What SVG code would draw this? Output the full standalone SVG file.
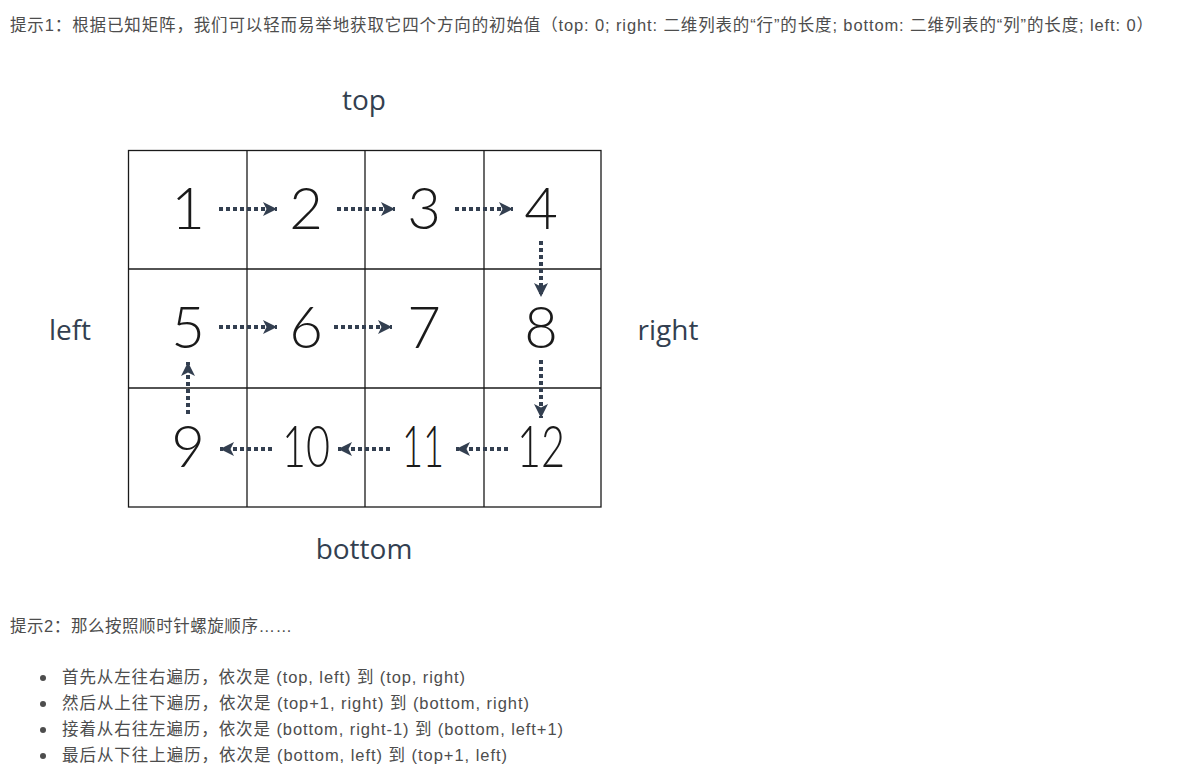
<svg xmlns="http://www.w3.org/2000/svg" width="1184" height="784" viewBox="0 0 1184 784">
<style>
.t{font-family:"Liberation Sans","Noto Sans CJK SC",sans-serif;font-size:16.5px;fill:#4d4d4d}
.lab{font-family:"Open Sans","Noto Sans",sans-serif;font-size:28px;fill:#333f50;text-anchor:middle}
.num{font-family:"Lato","Open Sans",sans-serif;font-weight:300;font-size:58px;fill:#1a1a1a;text-anchor:middle}
.cell{fill:#fff;stroke:#1a1a1a;stroke-width:1.3}
.ar{stroke:#333f50;stroke-width:4;stroke-dasharray:4 3;fill:none;marker-end:url(#ah)}
</style>
<defs>
<marker id="ah" viewBox="0 0 12 12" refX="12" refY="6" markerWidth="14" markerHeight="14" markerUnits="userSpaceOnUse" orient="auto">
<path d="M0,0 L12,6 L0,12 L3,6 Z" fill="#333f50"/>
</marker>
</defs>
<rect width="1184" height="784" fill="#fff"/>
<text class="t" x="10" y="31" textLength="1143" lengthAdjust="spacing">提示1：根据已知矩阵，我们可以轻而易举地获取它四个方向的初始值（top: 0; right: 二维列表的“行”的长度; bottom: 二维列表的“列”的长度; left: 0）</text>
<text class="lab" x="364" y="110">top</text>
<text class="lab" x="70" y="340">left</text>
<text class="lab" x="668" y="340">right</text>
<text class="lab" x="364" y="559">bottom</text>
<g id="grid">
<rect class="cell" x="128.5" y="150.5" width="472.5" height="356.5"/>
<line x1="247" y1="150" x2="247" y2="507" stroke="#1a1a1a" stroke-width="1.3"/>
<line x1="365" y1="150" x2="365" y2="507" stroke="#1a1a1a" stroke-width="1.3"/>
<line x1="484" y1="150" x2="484" y2="507" stroke="#1a1a1a" stroke-width="1.3"/>
<line x1="128" y1="269" x2="601" y2="269" stroke="#1a1a1a" stroke-width="1.3"/>
<line x1="128" y1="388" x2="601" y2="388" stroke="#1a1a1a" stroke-width="1.3"/>
</g>
<g id="n1"><text class="num" x="188" y="229">1</text></g>
<g id="n2"><text class="num" x="306" y="229">2</text></g>
<g id="n3"><text class="num" x="424" y="229">3</text></g>
<g id="n4"><text class="num" x="541" y="229">4</text></g>
<g id="n5"><text class="num" x="188" y="348">5</text></g>
<g id="n6"><text class="num" x="306" y="348">6</text></g>
<g id="n7"><text class="num" x="424" y="348">7</text></g>
<g id="n8"><text class="num" x="541" y="348">8</text></g>
<g id="n9"><text class="num" x="188" y="467">9</text></g>
<g id="n10"><text class="num" x="306" y="467" textLength="48" lengthAdjust="spacingAndGlyphs">10</text></g>
<g id="n11"><text class="num" x="423" y="467" textLength="42" lengthAdjust="spacingAndGlyphs">11</text></g>
<g id="n12"><text class="num" x="541" y="467" textLength="48" lengthAdjust="spacingAndGlyphs">12</text></g>
<g id="connectors">
<path class="ar" d="M219,209 H277"/>
<path class="ar" d="M337,209 H395"/>
<path class="ar" d="M455,209 H513"/>
<path class="ar" d="M541,241 V297"/>
<path class="ar" d="M219,327 H277"/>
<path class="ar" d="M334,327 H392"/>
<path class="ar" d="M541,360 V418"/>
<path class="ar" d="M508,449 H456"/>
<path class="ar" d="M390,449 H338"/>
<path class="ar" d="M272,449 H220"/>
<path class="ar" d="M188,414 V362"/>
</g>
<text class="t" x="10" y="632" textLength="282" lengthAdjust="spacing">提示2：那么按照顺时针螺旋顺序……</text>
<g>
<circle cx="43" cy="678" r="3" fill="#4d4d4d"/>
<circle cx="43" cy="704" r="3" fill="#4d4d4d"/>
<circle cx="43" cy="730" r="3" fill="#4d4d4d"/>
<circle cx="43" cy="756" r="3" fill="#4d4d4d"/>
</g>
<text class="t" x="62" y="683" textLength="403" lengthAdjust="spacing">首先从左往右遍历，依次是 (top, left) 到 (top, right)</text>
<text class="t" x="62" y="709" textLength="467" lengthAdjust="spacing">然后从上往下遍历，依次是 (top+1, right) 到 (bottom, right)</text>
<text class="t" x="62" y="735" textLength="501" lengthAdjust="spacing">接着从右往左遍历，依次是 (bottom, right-1) 到 (bottom, left+1)</text>
<text class="t" x="62" y="761" textLength="445" lengthAdjust="spacing">最后从下往上遍历，依次是 (bottom, left) 到 (top+1, left)</text>
</svg>
